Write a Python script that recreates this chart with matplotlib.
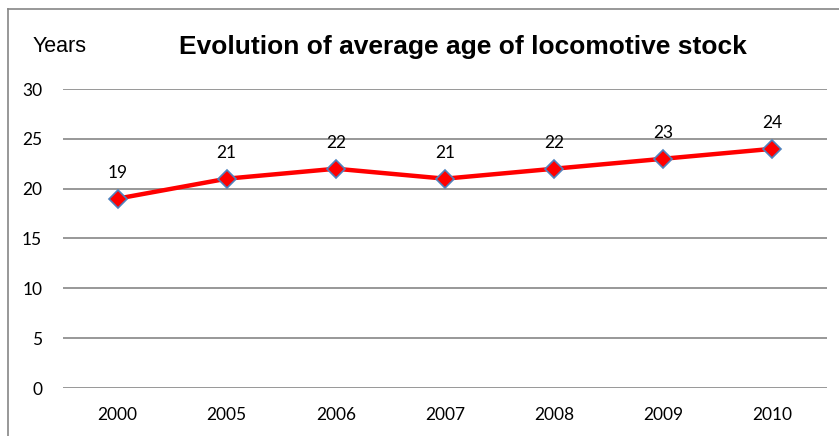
import matplotlib.pyplot as plt
from matplotlib.lines import Line2D

years = ['2000', '2005', '2006', '2007', '2008', '2009', '2010']
avg_age = [19, 21, 22, 21, 22, 23, 24]
y_ticks = [0, 5, 10, 15, 20, 25, 30]

tick_font = 'Lato'
title_font = 'Liberation Sans'

fig = plt.figure(figsize=(8.39, 4.36), dpi=100)
ax = fig.add_axes([63 / 839, 48 / 436, 764 / 839, 299 / 436])

x = list(range(len(years)))
ax.plot(x, avg_age, color='#ff0000', linewidth=3.2, marker='D', markersize=9,
        markerfacecolor='#ff0000', markeredgecolor='#4f81bd', markeredgewidth=1.2,
        zorder=3, solid_capstyle='round')

for xi, v in zip(x, avg_age):
    ax.annotate(str(v), (xi, v), xytext=(0, 13), textcoords='offset points',
                ha='center', va='bottom', fontsize=12.5, family=tick_font, color='#000000')

ax.set_xlim(-0.5, len(years) - 0.5)
ax.set_ylim(0, 30)
ax.set_yticks(y_ticks)
ax.set_xticks(x)
ax.set_xticklabels(years)
ax.yaxis.grid(True, color='#868686', linewidth=1.2)
ax.set_axisbelow(True)
for s in ax.spines.values():
    s.set_visible(False)
ax.tick_params(length=0, labelsize=12.5)
ax.tick_params(axis='y', pad=15)
ax.tick_params(axis='x', pad=14)
for lab in ax.get_xticklabels() + ax.get_yticklabels():
    lab.set_family(tick_font)

fig.text(463 / 839, 1 - 47 / 436, 'Evolution of average age of locomotive stock',
         ha='center', va='center', fontsize=19, fontweight='bold', family=title_font)
fig.text(33 / 839, 1 - 46 / 436, 'Years', ha='left', va='center',
         fontsize=15.5, family=title_font)

# outer chart border (top and left only visible)
fig.add_artist(Line2D([8 / 839, 1], [1 - 9 / 436, 1 - 9 / 436], color='#868686', linewidth=1.2))
fig.add_artist(Line2D([8 / 839, 8 / 839], [0, 1 - 9 / 436], color='#868686', linewidth=1.2))

fig.savefig('out.png', dpi=100)
